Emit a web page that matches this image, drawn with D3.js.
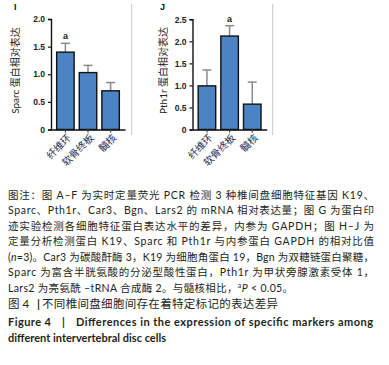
<!DOCTYPE html>
<html><head><meta charset="utf-8">
<script src="https://cdn.jsdelivr.net/npm/d3@7"></script>
<style>
html,body{margin:0;padding:0;background:#fff;}
svg{display:block;}
</style></head>
<body>
<script>
const categories = ["纤维环", "软骨终板", "髓核"];
const sparcValues = [1.40, 1.03, 0.70];
const sparcErrors = [0.16, 0.13, 0.15];
const sparcSig = ["a", "", ""];
const sparcTicks = [0, 0.5, 1.0, 1.5, 2.0];
const pthValues = [0.99, 2.12, 0.575];
const pthErrors = [0.36, 0.235, 0.50];
const pthSig = ["", "a", ""];
const pthTicks = [0, 0.5, 1.0, 1.5, 2.0, 2.5];

const W = 389, H = 365;
const svg = d3.select("body").append("svg").attr("width", W).attr("height", H);
const cjk = "Lato, 'Noto Sans CJK SC', 'Noto Sans', sans-serif";
const axFont = "'Liberation Sans', Arial, 'Noto Sans CJK SC', sans-serif";

function panel(opt) {
  const g = svg.append("g");
  const x = d3.scaleBand().domain(categories).range([opt.x0, opt.x1]).paddingInner(0.226).paddingOuter(0.25);
  const y = d3.scaleLinear().domain([0, opt.max]).range([129.5, opt.yTop]);
  const ya = g.append("g").attr("transform", `translate(${opt.x0},0)`)
    .call(d3.axisLeft(y).tickValues(opt.ticks).tickSize(3).tickPadding(3)
      .tickFormat(d => d === 0 ? "0" : d3.format(".1f")(d)));
  ya.select(".domain").attr("stroke", "#111").attr("stroke-width", 1.4);
  ya.selectAll(".tick line").attr("stroke", "#111").attr("stroke-width", 1.2);
  ya.selectAll(".tick text").attr("font-family", axFont).attr("font-size", 8.5).attr("font-weight", "bold").attr("fill", "#222");
  const data = categories.map((c, i) => ({c, v: opt.values[i], e: opt.errors[i], s: opt.sig[i]}));
  g.selectAll(".err").data(data).join("line")
    .attr("x1", d => x(d.c) + x.bandwidth() / 2).attr("x2", d => x(d.c) + x.bandwidth() / 2)
    .attr("y1", d => y(d.v)).attr("y2", d => y(d.v + d.e))
    .attr("stroke", "#8a8a8a").attr("stroke-width", 1.5);
  g.selectAll(".cap").data(data).join("line")
    .attr("x1", d => x(d.c) + x.bandwidth() / 2 - 4.5).attr("x2", d => x(d.c) + x.bandwidth() / 2 + 4.5)
    .attr("y1", d => y(d.v + d.e)).attr("y2", d => y(d.v + d.e))
    .attr("stroke", "#8a8a8a").attr("stroke-width", 1.5);
  g.selectAll(".bar").data(data).join("rect")
    .attr("x", d => x(d.c)).attr("width", x.bandwidth())
    .attr("y", d => y(d.v)).attr("height", d => y(0) - y(d.v))
    .attr("fill", "#4b83c5").attr("stroke", "#111").attr("stroke-width", 1.4);
  g.selectAll(".sig").data(data.filter(d => d.s)).join("text")
    .attr("x", d => x(d.c) + x.bandwidth() / 2).attr("y", d => y(d.v + d.e) - 4)
    .attr("text-anchor", "middle").attr("font-family", axFont).attr("font-size", 9).attr("font-weight", "bold")
    .attr("fill", "#222").text(d => d.s);
  const xa = g.append("g").attr("transform", `translate(0,129.5)`)
    .call(d3.axisBottom(x).tickSize(3).tickSizeOuter(0).tickFormat(""));
  xa.select(".domain").attr("stroke", "#111").attr("stroke-width", 1.4);
  xa.selectAll(".tick line").attr("stroke", "#444").attr("stroke-width", 1.2);
  g.selectAll(".xl").data(categories).join("text")
    .attr("transform", d => `translate(${x(d) + x.bandwidth() / 2 + 4},${136}) rotate(-45)`)
    .attr("text-anchor", "end").attr("dy", "0.35em")
    .attr("font-family", cjk).attr("font-size", 10).attr("fill", "#1f2d55").text(d => d);
  g.append("text").attr("transform", `translate(${opt.labX},70.5) rotate(-90)`)
    .attr("text-anchor", "middle").attr("dy", "0.35em")
    .attr("font-family", cjk).attr("font-size", 10).attr("fill", "#222").text(opt.label);
  g.append("text").attr("x", opt.letX).attr("y", 10).attr("font-family", axFont)
    .attr("font-size", 9).attr("font-weight", "bold").attr("fill", "#111").text(opt.letter);
  g.append("line").attr("x1", opt.sep).attr("x2", opt.sep).attr("y1", 4).attr("y2", 135)
    .attr("stroke", "#c8c8c8").attr("stroke-width", 1);
}

panel({x0: 51, x1: 125, max: 2, yTop: 19, ticks: sparcTicks, values: sparcValues, errors: sparcErrors,
  sig: sparcSig, label: "Sparc 蛋白相对表达", labX: 15, letter: "I", letX: 14, sep: 131.7});
panel({x0: 192.5, x1: 266.7, max: 2.5, yTop: 19.3, ticks: pthTicks, values: pthValues, errors: pthErrors,
  sig: pthSig, label: "Pth1r 蛋白相对表达", labX: 163, letter: "J", letX: 160, sep: 272.7});

const capLines = [
  {y: 195, parts: [["图注：图 A–F 为实时定量荧光 PCR 检测 3 种椎间盘细胞特征基因 K19、"]], w: 366},
  {y: 210.5, parts: [["Sparc、Pth1r、Car3、Bgn、Lars2 的 mRNA 相对表达量；图 G 为蛋白印"]], w: 366},
  {y: 226, parts: [["迹实验检测各细胞特征蛋白表达水平的差异，内参为 GAPDH；图 H–J 为"]], w: 366},
  {y: 241.5, parts: [["定量分析检测蛋白 K19、Sparc 和 Pth1r 与内参蛋白 GAPDH 的相对比值"]], w: 366},
  {y: 257, parts: [["("], ["n", "italic"], ["=3)。Car3 为碳酸酐酶 3，K19 为细胞角蛋白 19，Bgn 为双糖链蛋白聚糖，"]], w: 366},
  {y: 272.5, parts: [["Sparc 为富含半胱氨酸的分泌型酸性蛋白，Pth1r 为甲状旁腺激素受体 1，"]], w: 366},
  {y: 288, parts: [["Lars2 为亮氨酰 –tRNA 合成酶 2。与髓核相比，"], ["a", "sup"], ["P", "italic"], [" < 0.05。"]], w: 285}
];
capLines.forEach(l => {
  const t = svg.append("text").attr("x", 8).attr("y", l.y).attr("dy", "0.35em")
    .attr("font-family", cjk).attr("font-size", 10.5).attr("fill", "#231f20")
    .attr("textLength", l.w).attr("lengthAdjust", "spacing");
  l.parts.forEach(p => {
    const ts = t.append("tspan").text(p[0]);
    if (p[1] === "italic") ts.attr("font-style", "italic");
    if (p[1] === "sup") ts.attr("font-size", 7).attr("baseline-shift", "super");
  });
});
svg.append("text").attr("x", 8).attr("y", 304).attr("dy", "0.35em").attr("font-family", cjk)
  .attr("font-size", 11.5).attr("fill", "#231f20").text("图 4");
svg.append("text").attr("x", 37).attr("y", 304).attr("dy", "0.35em").attr("font-family", cjk)
  .attr("font-size", 11.5).attr("font-weight", "bold").attr("fill", "#231f20").text("|");
svg.append("text").attr("x", 42).attr("y", 304).attr("dy", "0.35em").attr("font-family", cjk)
  .attr("font-size", 11.5).attr("fill", "#231f20").attr("textLength", 236).attr("lengthAdjust", "spacing")
  .text("不同椎间盘细胞间存在着特定标记的表达差异");
svg.append("text").attr("x", 8).attr("y", 322.5).attr("dy", "0.35em").attr("font-family", cjk)
  .attr("font-size", 11).attr("font-weight", "bold").attr("fill", "#231f20").attr("textLength", 43).text("Figure 4");
svg.append("text").attr("x", 62).attr("y", 322.5).attr("dy", "0.35em").attr("font-family", cjk)
  .attr("font-size", 11).attr("font-weight", "bold").attr("fill", "#231f20").text("|");
svg.append("text").attr("x", 76).attr("y", 322.5).attr("dy", "0.35em").attr("font-family", cjk)
  .attr("font-size", 11).attr("font-weight", "bold").attr("fill", "#231f20")
  .attr("textLength", 297).attr("lengthAdjust", "spacing")
  .text("Differences in the expression of specific markers among");
svg.append("text").attr("x", 8).attr("y", 338.5).attr("dy", "0.35em").attr("font-family", cjk)
  .attr("font-size", 11).attr("font-weight", "bold").attr("fill", "#231f20")
  .attr("textLength", 158).attr("lengthAdjust", "spacing")
  .text("different intervertebral disc cells");
</script>
</body></html>
